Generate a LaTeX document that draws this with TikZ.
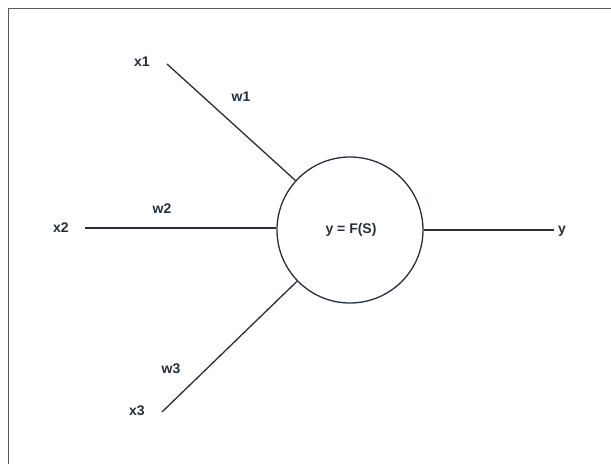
\documentclass[tikz,border=0pt]{standalone}
\usepackage{fontspec}
\setmainfont{Liberation Sans}
\definecolor{ink}{RGB}{35,48,58}
\definecolor{framec}{RGB}{90,90,90}
\begin{document}
\begin{tikzpicture}[x=1pt,y=-1pt,
  lbl/.style={font=\bfseries\fontsize{14}{16}\selectfont, text=ink, inner sep=1pt},
  wire/.style={draw=ink, line width=1.3pt}]
\useasboundingbox (0,0) rectangle (611,464);
\draw[framec, line width=1.5pt] (8.5,464) -- (8.5,8.5) -- (611,8.5);
\node[draw=ink, line width=1.3pt, circle, minimum size=146pt, inner sep=0pt] (c) at (350,230) {};
\node[lbl] (f) at (351,230) {y = F(S)};
\node[lbl] (x1) at (142,62) {x1};
\node[lbl] (x2) at (61,228) {x2};
\node[lbl] (x3) at (137,411) {x3};
\node[lbl] (w1) at (241,97) {w1};
\node[lbl] (w2) at (162,209) {w2};
\node[lbl] (w3) at (171,369) {w3};
\node[lbl] (y) at (562,231) {y};
\coordinate (a1) at (167,64);
\coordinate (a2) at (85,228);
\coordinate (a3) at (162,412);
\coordinate (b) at (554,230);
\draw[wire] (a1) -- (c);
\draw[wire] (a2) -- (c.west |- a2);
\draw[wire] (a3) -- (c);
\draw[wire] (c.east) -- (b);
\end{tikzpicture}
\end{document}
